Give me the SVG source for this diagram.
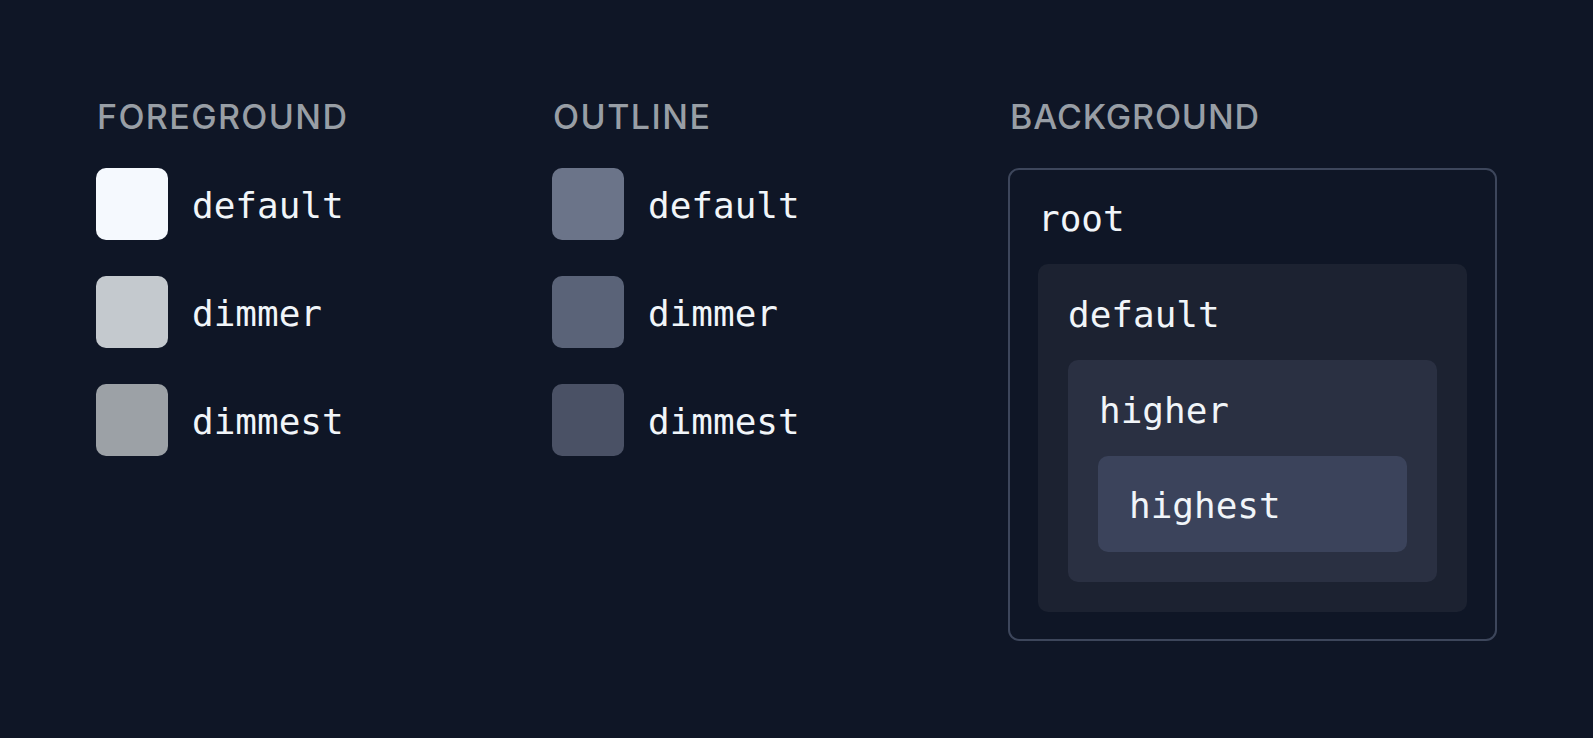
<svg xmlns="http://www.w3.org/2000/svg" width="1593" height="738" viewBox="0 0 1593 738">
<style>
.hdr{font-family:Inter,"Liberation Sans","DejaVu Sans",sans-serif;font-size:34px;font-weight:500;fill:#989ea5}
.lbl{font-family:"DejaVu Sans Mono","Liberation Mono",monospace;font-size:36px;fill:#f1f5f9}
</style>
<rect width="1593" height="738" fill="#0f1626"/>
<g id="foreground">
<text class="hdr" x="97" y="129" textLength="250" lengthAdjust="spacing">FOREGROUND</text>
<g id="fg-default"><rect x="96" y="168" width="72" height="72" rx="10" fill="#f5f9fe"/><text class="lbl" x="192" y="218">default</text></g>
<g id="fg-dimmer"><rect x="96" y="276" width="72" height="72" rx="10" fill="#c4c9ce"/><text class="lbl" x="192" y="326">dimmer</text></g>
<g id="fg-dimmest"><rect x="96" y="384" width="72" height="72" rx="10" fill="#9ca1a6"/><text class="lbl" x="192" y="434">dimmest</text></g>
</g>
<g id="outline">
<text class="hdr" x="553" y="129" textLength="157" lengthAdjust="spacing">OUTLINE</text>
<g id="ol-default"><rect x="552" y="168" width="72" height="72" rx="10" fill="#6b7489"/><text class="lbl" x="648" y="218">default</text></g>
<g id="ol-dimmer"><rect x="552" y="276" width="72" height="72" rx="10" fill="#5a6378"/><text class="lbl" x="648" y="326">dimmer</text></g>
<g id="ol-dimmest"><rect x="552" y="384" width="72" height="72" rx="10" fill="#4a5165"/><text class="lbl" x="648" y="434">dimmest</text></g>
</g>
<g id="background">
<text class="hdr" x="1010" y="129" textLength="249" lengthAdjust="spacing">BACKGROUND</text>
<g id="bg-root"><rect x="1009" y="169" width="487" height="471" rx="10" fill="#0f1626" stroke="#3d465b" stroke-width="2"/><text class="lbl" x="1038" y="231">root</text></g>
<g id="bg-default"><rect x="1038" y="264" width="429" height="348" rx="10" fill="#1c2231"/><text class="lbl" x="1068" y="327">default</text></g>
<g id="bg-higher"><rect x="1068" y="360" width="369" height="222" rx="10" fill="#2a3042"/><text class="lbl" x="1099" y="423">higher</text></g>
<g id="bg-highest"><rect x="1098" y="456" width="309" height="96" rx="10" fill="#3b435b"/><text class="lbl" x="1129" y="518">highest</text></g>
</g>
<g id="connectors"/>
</svg>
